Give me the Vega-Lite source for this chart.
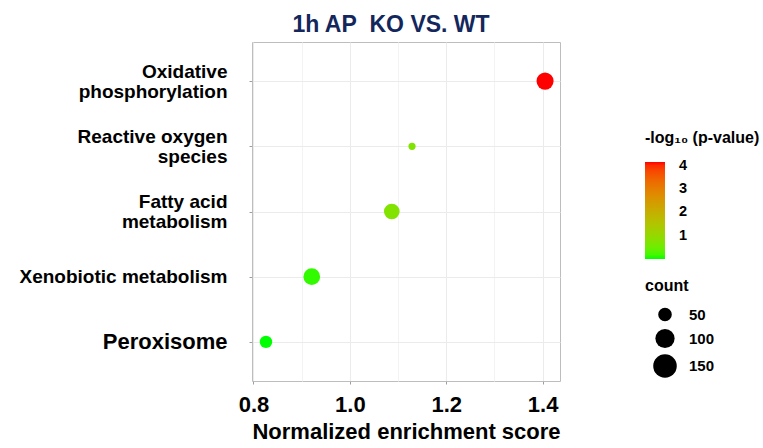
{
  "$schema": "https://vega.github.io/schema/vega-lite/v6.json",
  "width": 308,
  "height": 339,
  "autosize": {"type": "none"},
  "padding": {"left": 252, "top": 42, "right": 203, "bottom": 67},
  "background": "white",
  "title": {
    "text": "1h AP\u00a0 KO VS. WT",
    "font": "Liberation Sans",
    "fontSize": 23,
    "fontWeight": "bold",
    "color": "#13275c",
    "anchor": "middle",
    "dx": -15,
    "offset": 5
  },
  "config": {
    "view": {"stroke": "#bdbdbd", "strokeWidth": 1},
    "font": "Liberation Sans"
  },
  "data": {
    "values": [
      {"pathway": "Oxidative phosphorylation", "nes": 1.405, "logp": 4.15, "count": 79},
      {"pathway": "Reactive oxygen species", "nes": 1.129, "logp": 0.72, "count": 14},
      {"pathway": "Fatty acid metabolism", "nes": 1.087, "logp": 0.74, "count": 66},
      {"pathway": "Xenobiotic metabolism", "nes": 0.921, "logp": 0.12, "count": 76},
      {"pathway": "Peroxisome", "nes": 0.826, "logp": 0.02, "count": 42}
    ]
  },
  "mark": {"type": "circle", "opacity": 1, "strokeWidth": 0},
  "encoding": {
    "x": {
      "field": "nes",
      "type": "quantitative",
      "scale": {"domain": [0.797, 1.436], "nice": false, "zero": false},
      "axis": {
        "title": "Normalized enrichment score",
        "titleFont": "Liberation Sans",
        "titleFontSize": 22,
        "titleFontWeight": "bold",
        "titleColor": "black",
        "titlePadding": 6,
        "values": [0.8, 0.9, 1.0, 1.1, 1.2, 1.3, 1.4],
        "labelExpr": "round(datum.value*10) % 2 == 0 ? format(datum.value, '.1f') : ''",
        "labelFont": "Liberation Sans",
        "labelFontSize": 22,
        "labelFontWeight": "bold",
        "labelColor": "black",
        "labelPadding": 10,
        "labelOverlap": false,
        "labelFlush": false,
        "domain": false,
        "grid": true,
        "gridColor": {"condition": {"test": "round(datum.value*10) % 2 == 1", "value": "#f3f3f3"}, "value": "#ebebeb"},
        "gridWidth": 1,
        "ticks": true,
        "tickSize": 3,
        "tickColor": "#9e9e9e",
        "tickOpacity": {"condition": {"test": "round(datum.value*10) % 2 == 1", "value": 0}, "value": 1}
      }
    },
    "y": {
      "field": "pathway",
      "type": "nominal",
      "sort": null,
      "scale": {"type": "point", "padding": 0.6},
      "axis": {
        "title": null,
        "labelExpr": "datum.value === 'Oxidative phosphorylation' ? ['Oxidative', 'phosphorylation'] : datum.value === 'Reactive oxygen species' ? ['Reactive oxygen', 'species'] : datum.value === 'Fatty acid metabolism' ? ['Fatty acid', 'metabolism'] : datum.value",
        "labelFont": "Liberation Sans",
        "labelFontSize": {"condition": {"test": "datum.value === 'Peroxisome'", "value": 22}, "value": 19},
        "labelFontWeight": "bold",
        "labelColor": "black",
        "labelLineHeight": 20,
        "labelOffset": {"condition": {"test": "indexof(['Oxidative phosphorylation', 'Reactive oxygen species', 'Fatty acid metabolism'], datum.value) >= 0", "value": -10}, "value": 0},
        "labelPadding": 22,
        "labelLimit": 300,
        "domain": false,
        "grid": true,
        "gridColor": "#ebebeb",
        "ticks": true,
        "tickSize": 3,
        "tickColor": "#9e9e9e"
      }
    },
    "color": {
      "field": "logp",
      "type": "quantitative",
      "scale": {"range": ["#00ff00", "#ff0000"], "interpolate": "lab"},
      "legend": {
        "title": "-log₁₀ (p-value)",
        "orient": "none",
        "legendX": 393,
        "legendY": 88,
        "padding": 0,
        "titleFont": "Liberation Sans",
        "titleFontSize": 16,
        "titleFontWeight": "bold",
        "titleColor": "black",
        "titlePadding": 16,
        "gradientLength": 97,
        "gradientThickness": 20,
        "gradientStrokeWidth": 0,
        "values": [1, 2, 3, 4],
        "labelFont": "Liberation Sans",
        "labelFontSize": 14.5,
        "labelFontWeight": "bold",
        "labelColor": "black",
        "labelOffset": 14,
        "labelOverlap": false
      }
    },
    "size": {
      "field": "count",
      "type": "quantitative",
      "scale": {"type": "linear", "domain": [0, 150], "range": [0, 555]},
      "legend": {
        "title": "count",
        "orient": "none",
        "legendX": 393,
        "legendY": 236,
        "padding": 0,
        "titleFont": "Liberation Sans",
        "titleFontSize": 16,
        "titleFontWeight": "bold",
        "titleColor": "black",
        "titlePadding": 13,
        "values": [50, 100, 150],
        "symbolType": "circle",
        "symbolFillColor": "black",
        "symbolStrokeWidth": 0,
        "symbolOpacity": 1,
        "symbolOffset": 8,
        "rowPadding": 5.5,
        "labelFont": "Liberation Sans",
        "labelFontSize": 15,
        "labelFontWeight": "bold",
        "labelColor": "black",
        "labelOffset": 12
      }
    }
  }
}
